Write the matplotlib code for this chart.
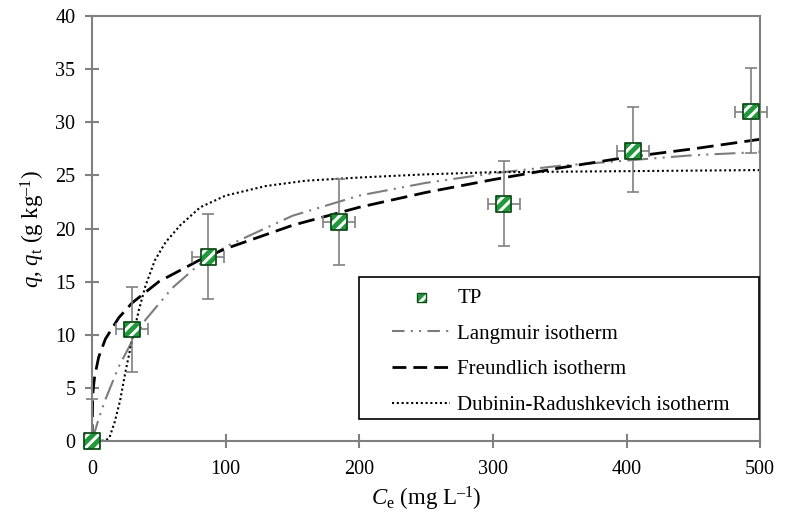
import matplotlib.pyplot as plt
from matplotlib.lines import Line2D
from matplotlib.patches import Rectangle

plt.rcParams['font.family'] = 'Liberation Serif'
plt.rcParams['mathtext.fontset'] = 'custom'
plt.rcParams['mathtext.rm'] = 'Liberation Serif'
plt.rcParams['mathtext.it'] = 'Liberation Serif:italic'
plt.rcParams['hatch.linewidth'] = 2.2

# measured points (TP)
ce = [0, 30, 87, 185, 308, 405, 493]
qe = [0, 10.5, 17.3, 20.6, 22.3, 27.3, 31.0]
ce_err = [0, 12, 12, 12, 12, 12, 12]
qe_err_lo = [0, 4.0, 3.9, 4.0, 3.9, 3.9, 3.9]
qe_err_hi = [4.0, 4.0, 4.1, 4.1, 4.1, 4.1, 4.1]

# model curves
lang_c = [0, 5, 10, 20, 30, 40, 60, 80, 100, 150, 200, 250, 300, 350, 400, 450, 500]
lang_q = [0, 2.1, 3.9, 7.0, 9.4, 11.4, 14.4, 16.6, 18.3, 21.2, 23.1, 24.3, 25.2, 25.9, 26.4, 26.9, 27.2]

freu_c = [0, 0.5, 1, 2, 5, 10, 20, 30, 50, 80, 100, 150, 200, 250, 300, 350, 400, 450, 500]
freu_q = [0, 4.2, 5.0, 6.1, 7.9, 9.6, 11.6, 13.0, 15.0, 17.0, 18.1, 20.3, 22.0, 23.4, 24.6, 25.7, 26.7, 27.5, 28.4]

dr_c = [0, 5, 10, 13, 17, 21, 25, 30, 35, 40, 47, 55, 66, 81, 100, 130, 160, 200, 250, 300, 400, 500]
dr_q = [0, 0, 0.05, 0.3, 1.8, 3.8, 6.5, 9.5, 12.3, 14.6, 17.0, 18.7, 20.3, 22.0, 23.1, 24.0, 24.5, 24.8, 25.1, 25.3, 25.4, 25.5]

fig = plt.figure(figsize=(7.96, 5.17), dpi=100)
ax = fig.add_axes([0.1156, 0.147, 0.8394, 0.822])

gray = '#808080'
lang_col = '#7c7c7c'
ax.plot(lang_c, lang_q, color=lang_col, lw=1.5, dashes=[10, 3, 1, 3, 1, 3])
ax.plot(freu_c, freu_q, color='black', lw=2.0, dashes=[6, 2.6])
ax.plot(dr_c, dr_q, color='black', lw=1.5, dashes=[1, 1.3])

ax.errorbar(ce, qe, xerr=ce_err, yerr=[qe_err_lo, qe_err_hi], fmt='none', ecolor=gray,
            elinewidth=1.2, capsize=4, capthick=1.2, clip_on=False, zorder=3)
s1 = ax.scatter(ce, qe, marker='s', s=125, facecolor='#1f9a3a', edgecolor='white',
                hatch='///', linewidth=0, clip_on=False, zorder=4)
s2 = ax.scatter(ce, qe, marker='s', s=125, facecolor='none', edgecolor='#0f4d1c',
                linewidth=1.3, clip_on=False, zorder=5)

ax.set_xlim(0, 500)
ax.set_ylim(0, 40)
ax.set_xticks(range(0, 501, 100))
ax.set_yticks(range(0, 41, 5))
for sp in ax.spines.values():
    sp.set_color(gray)
    sp.set_linewidth(1.5)
ax.tick_params(direction='inout', length=10, width=1.5, color=gray,
               labelsize=14.5, pad=7)
ax.tick_params(axis='x', pad=9)

ax.set_xlabel(r'$C_{\rm e}$ (mg L$^{\rm –1}$)', fontsize=16.5, labelpad=4)
ax.set_ylabel(r'$q$, $q_{\rm t}$ (g kg$^{\rm –1}$)', fontsize=16.5, labelpad=6)

# legend frame drawn separately (wider side padding than legend allows)
ax.add_patch(Rectangle((0.3997, 0.0518), 0.5988, 0.3342, transform=ax.transAxes,
                       facecolor='white', edgecolor='black', lw=1.2, zorder=6))

h_lang = Line2D([], [], color=lang_col, lw=1.5, dashes=[6, 3, 1, 3, 1, 3])
h_freu = Line2D([], [], color='black', lw=2.0, dashes=[5, 2.5])
h_dr = Line2D([], [], color='black', lw=1.5, dashes=[1, 1.3])
h_tp = ax.scatter([], [], marker='s', s=45, facecolor='#1f9a3a', edgecolor='white',
                  hatch='///', linewidth=0)
h_tp2 = ax.scatter([], [], marker='s', s=45, facecolor='none', edgecolor='#0f4d1c',
                   linewidth=1.0)
leg = ax.legend([(h_tp, h_tp2), h_lang, h_freu, h_dr],
                ['TP', 'Langmuir isotherm', 'Freundlich isotherm',
                 'Dubinin-Radushkevich isotherm'],
                loc='upper left', bbox_to_anchor=(0.449, 0.359), fontsize=15,
                frameon=False, handlelength=2.8, handletextpad=0.33,
                borderpad=0, borderaxespad=0, labelspacing=0.77)
leg.set_zorder(7)

fig.savefig('out.png', dpi=100)
